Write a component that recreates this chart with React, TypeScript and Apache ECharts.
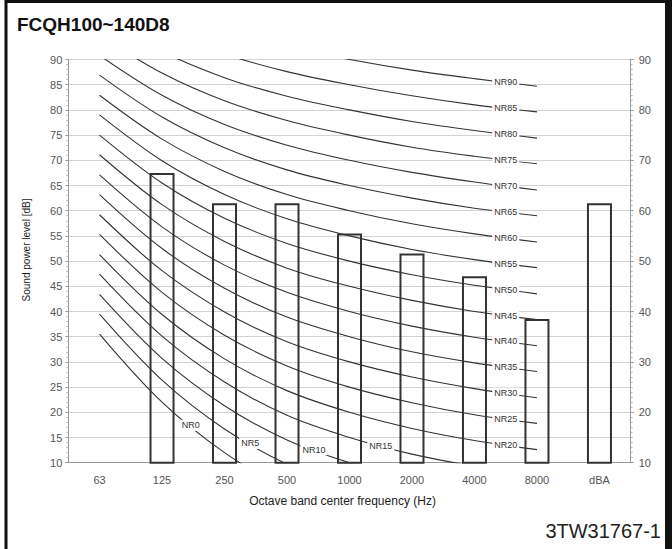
import React, { useEffect, useRef } from "react";
import * as echarts from "echarts";

const categories = ["63", "125", "250", "500", "1000", "2000", "4000", "8000", "dBA"];
const soundPower: (number | null)[] = [null, 67.5, 61.5, 61.5, 55.5, 51.5, 47, 38.5, 61.5];

// NR curve levels (values at 63..8000 Hz)
const nrLevels = [0, 5, 10, 15, 20, 25, 30, 35, 40, 45, 50, 55, 60, 65, 70, 75, 80, 85, 90];
const nrCurves: number[][] = [
  [35.5, 22.0, 12.0, 4.8, 0, -3.5, -6.1, -8.0],
  [39.5, 26.4, 16.7, 9.7, 5, 1.6, -1.0, -2.9],
  [43.4, 30.7, 21.3, 14.5, 10, 6.7, 4.2, 2.3],
  [47.4, 35.1, 26.0, 19.4, 15, 11.7, 9.3, 7.5],
  [51.3, 39.4, 30.6, 24.3, 20, 16.8, 14.4, 12.6],
  [55.3, 43.8, 35.3, 29.2, 25, 21.9, 19.5, 17.8],
  [59.2, 48.1, 39.9, 34.0, 30, 27.0, 24.7, 22.9],
  [63.2, 52.5, 44.6, 38.9, 35, 32.0, 29.8, 28.1],
  [67.1, 56.8, 49.2, 43.8, 40, 37.1, 34.9, 33.2],
  [71.1, 61.2, 53.9, 48.6, 45, 42.2, 40.0, 38.4],
  [75.0, 65.5, 58.5, 53.5, 50, 47.3, 45.2, 43.5],
  [79.0, 69.9, 63.2, 58.4, 55, 52.3, 50.3, 48.7],
  [82.9, 74.2, 67.8, 63.2, 60, 57.4, 55.4, 53.8],
  [86.9, 78.6, 72.5, 68.1, 65, 62.5, 60.5, 59.0],
  [90.8, 82.9, 77.1, 73.0, 70, 67.6, 65.7, 64.1],
  [94.8, 87.3, 81.8, 77.9, 75, 72.6, 70.8, 69.3],
  [98.7, 91.6, 86.4, 82.7, 80, 77.7, 75.9, 74.4],
  [102.7, 96.0, 91.1, 87.6, 85, 82.8, 81.0, 79.6],
  [106.6, 100.3, 95.7, 92.5, 90, 87.9, 86.2, 84.7],
];
// label position along the curve (fractional band index)
const nrLabelPos = [1.46, 2.41, 3.43, 4.5, 6.5, 6.5, 6.5, 6.5, 6.5, 6.5, 6.5, 6.5, 6.5, 6.5, 6.5, 6.5, 6.5, 6.5, 6.5];

const FONT = "'Liberation Sans', Arial, sans-serif";

export default function App() {
  const ref = useRef<HTMLDivElement>(null);

  useEffect(() => {
    if (!ref.current) return;
    const chart = echarts.init(ref.current, null, { renderer: "svg" });

    const lineSeries = nrCurves.map((curve, k) => {
      const p = nrLabelPos[k];
      const i0 = Math.floor(p);
      const f = p - i0;
      const ly = curve[i0] + f * (curve[i0 + 1] - curve[i0]);
      return {
        type: "line",
        name: "NR" + nrLevels[k],
        xAxisIndex: 1,
        yAxisIndex: 0,
        data: curve.map((v, i) => [i + 0.5, v]),
        smooth: 0.35,
        showSymbol: false,
        symbol: "none",
        silent: true,
        clip: true,
        z: 3,
        lineStyle: { color: "#333", width: 1.1 },
        markPoint: {
          symbol: "circle",
          symbolSize: 1,
          silent: true,
          itemStyle: { color: "rgba(0,0,0,0)" },
          label: {
            show: true,
            position: "inside",
            formatter: "NR" + nrLevels[k],
            fontSize: 9,
            fontFamily: FONT,
            color: "#333",
            backgroundColor: "#fff",
            padding: [1, 2],
          },
          data: [{ coord: [p + 0.5, ly] }],
        },
      };
    });

    chart.setOption({
      animation: false,
      backgroundColor: "#fff",
      grid: { left: 68.3, right: 41.3, top: 59.5, bottom: 86.3, containLabel: false },
      xAxis: [
        {
          type: "category",
          data: categories,
          boundaryGap: true,
          axisLine: { show: true, lineStyle: { color: "#999", width: 1 } },
          axisTick: { show: false },
          axisLabel: { color: "#555", fontSize: 11, fontFamily: FONT, margin: 12 },
          splitLine: { show: false },
        },
        { type: "value", min: 0, max: 9, show: false },
      ],
      yAxis: [
        {
          type: "value",
          position: "left",
          min: 10,
          max: 90,
          interval: 5,
          axisLine: { show: true, lineStyle: { color: "#999", width: 1 } },
          axisTick: { show: true, length: 3, lineStyle: { color: "#999" } },
          minorTick: { show: true, splitNumber: 5, length: 2, lineStyle: { color: "#bbb" } },
          axisLabel: { color: "#555", fontSize: 11, fontFamily: FONT, margin: 6 },
          splitLine: { show: true, lineStyle: { color: "#d2d2d2", width: 1 } },
        },
        {
          type: "value",
          position: "right",
          min: 10,
          max: 90,
          interval: 10,
          axisLine: { show: true, lineStyle: { color: "#999", width: 1 } },
          axisTick: { show: true, length: 3, lineStyle: { color: "#999" } },
          minorTick: { show: true, splitNumber: 10, length: 2, lineStyle: { color: "#bbb" } },
          axisLabel: { color: "#555", fontSize: 11, fontFamily: FONT, margin: 8 },
          splitLine: { show: false },
        },
      ],
      series: [
        {
          type: "bar",
          name: "Sound power level",
          xAxisIndex: 0,
          yAxisIndex: 0,
          data: soundPower.map((v) => (v === null ? "-" : v)),
          barWidth: 25,
          z: 2,
          silent: true,
          itemStyle: { color: "rgba(255,255,255,0)", borderColor: "#333", borderWidth: 2 },
        },
        ...lineSeries,
      ],
      graphic: [
        {
          type: "rect",
          shape: { x: 6, y: 1.5, width: 661, height: 600 },
          style: { fill: "none", stroke: "#111", lineWidth: 3 },
          silent: true,
        },
        {
          type: "rect",
          shape: { x: 665, y: 0, width: 7, height: 549 },
          style: { fill: "#111" },
          silent: true,
        },
        {
          type: "text",
          x: 17,
          y: 24.5,
          style: {
            text: "FCQH100~140D8",
            font: `bold 19px ${FONT}`,
            fill: "#111",
            align: "left",
            verticalAlign: "middle",
          },
        },
        {
          type: "text",
          x: 26,
          y: 250,
          rotation: Math.PI / 2,
          style: {
            text: "Sound power level [dB]",
            font: `10px ${FONT}`,
            fill: "#222",
            align: "center",
            verticalAlign: "middle",
          },
        },
        {
          type: "text",
          x: 342.5,
          y: 501,
          style: {
            text: "Octave band center frequency (Hz)",
            font: `12px ${FONT}`,
            fill: "#222",
            align: "center",
            verticalAlign: "middle",
          },
        },
        {
          type: "text",
          x: 661,
          y: 531,
          style: {
            text: "3TW31767-1",
            font: `20px ${FONT}`,
            fill: "#222",
            align: "right",
            verticalAlign: "middle",
          },
        },
      ],
    });

    return () => chart.dispose();
  }, []);

  return (
    <div
      ref={ref}
      style={{ position: "fixed", left: 0, top: 0, width: 672, height: 549, background: "#fff" }}
    />
  );
}
